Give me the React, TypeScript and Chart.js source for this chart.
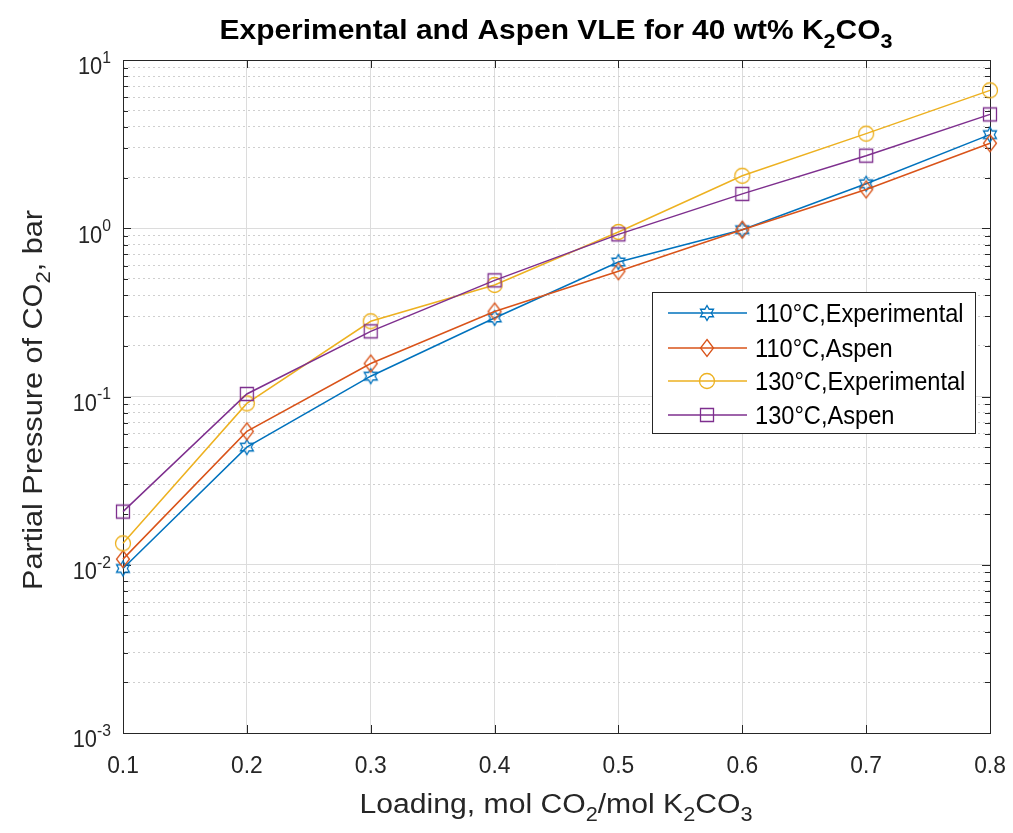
import React, { useEffect, useRef } from 'react';
import { Chart, registerables } from 'chart.js';
Chart.register(...registerables);

// ---------------- data ----------------
const loading = [0.1, 0.2, 0.3, 0.4, 0.5, 0.6, 0.7, 0.8];
const exp110 = [0.0095, 0.05, 0.132, 0.293, 0.63, 0.98, 1.84, 3.6];
const aspen110 = [0.0108, 0.062, 0.157, 0.32, 0.555, 0.98, 1.7, 3.2];
const exp130 = [0.0134, 0.091, 0.28, 0.46, 0.95, 2.05, 3.65, 6.6];
const aspen130 = [0.0207, 0.1035, 0.244, 0.49, 0.92, 1.6, 2.7, 4.75];
const seriesLabels = ['110°C,Experimental', '110°C,Aspen', '130°C,Experimental', '130°C,Aspen'];
const seriesColors = ['#0072BD', '#D95319', '#EDB120', '#7E2F8E'];
const seriesMarkers = ['hexagram', 'diamond', 'circle', 'square'];
const yDecades = [-3, -2, -1, 0, 1];
const xMin = 0.1;
const xMax = 0.8;

const FAMILY = '"Liberation Sans", Arial, Helvetica, sans-serif';
const TEXT = '#262626';

type Seg = { t: string; s?: 'sub' | 'sup' };

function drawRich(
  ctx: CanvasRenderingContext2D,
  segs: Seg[],
  cx: number,
  cy: number,
  size: number,
  weight: string,
  color: string,
  align: 'center' | 'left' | 'right',
  opts: { fit?: number; sx?: number } = {}
) {
  const small = size * 0.72;
  const widths = segs.map((sg) => {
    ctx.font = `${weight} ${sg.s ? small : size}px ${FAMILY}`;
    return ctx.measureText(sg.t).width;
  });
  const total = widths.reduce((a, b) => a + b, 0);
  const sx = opts.fit ? opts.fit / total : opts.sx || 1;
  ctx.save();
  ctx.translate(cx, cy);
  ctx.scale(sx, 1);
  ctx.fillStyle = color;
  ctx.textAlign = 'left';
  ctx.textBaseline = 'alphabetic';
  let x = align === 'center' ? -total / 2 : align === 'right' ? -total : 0;
  const base = size * 0.36;
  segs.forEach((sg, i) => {
    ctx.font = `${weight} ${sg.s ? small : size}px ${FAMILY}`;
    let y = base;
    if (sg.s === 'sub') y = base + size * 0.32;
    if (sg.s === 'sup') y = base - size * 0.5;
    ctx.fillText(sg.t, x, y);
    x += widths[i];
  });
  ctx.restore();
}

function makeMarker(kind: string, color: string): HTMLCanvasElement {
  const c = document.createElement('canvas');
  c.width = 24;
  c.height = 24;
  const g = c.getContext('2d') as CanvasRenderingContext2D;
  g.strokeStyle = color;
  g.lineWidth = 1.3;
  g.translate(12, 12);
  g.beginPath();
  if (kind === 'hexagram') {
    const R = 7.5;
    const r = R / Math.sqrt(3);
    for (let i = 0; i < 12; i++) {
      const a = -Math.PI / 2 + (i * Math.PI) / 6;
      const rad = i % 2 === 0 ? R : r;
      const px = rad * Math.cos(a);
      const py = rad * Math.sin(a);
      if (i === 0) g.moveTo(px, py);
      else g.lineTo(px, py);
    }
    g.closePath();
  } else if (kind === 'diamond') {
    g.moveTo(0, -8.5);
    g.lineTo(6.5, 0);
    g.lineTo(0, 8.5);
    g.lineTo(-6.5, 0);
    g.closePath();
  } else if (kind === 'circle') {
    g.arc(0, 0, 7.5, 0, Math.PI * 2);
  } else {
    g.rect(-6.5, -6.5, 13, 13);
  }
  g.stroke();
  return c;
}

export default function App() {
  const ref = useRef<HTMLCanvasElement>(null);

  useEffect(() => {
    const canvas = ref.current as HTMLCanvasElement;
    const markers = seriesColors.map((c, i) => makeMarker(seriesMarkers[i], c));
    const allSeries = [exp110, aspen110, exp130, aspen130];

    const decor = {
      id: 'decor',
      beforeDatasetsDraw(chart: any) {
        const { ctx, chartArea: a, scales } = chart;
        ctx.save();
        ctx.strokeStyle = TEXT;
        ctx.lineWidth = 1;
        ctx.strokeRect(a.left + 0.5, a.top + 0.5, a.right - a.left, a.bottom - a.top);
        ctx.beginPath();
        scales.x.ticks.forEach((t: any) => {
          const px = Math.round(scales.x.getPixelForValue(t.value)) + 0.5;
          ctx.moveTo(px, a.bottom);
          ctx.lineTo(px, a.bottom - 8);
          ctx.moveTo(px, a.top);
          ctx.lineTo(px, a.top + 8);
        });
        scales.y.ticks.forEach((t: any) => {
          const py = Math.round(scales.y.getPixelForValue(t.value)) + 0.5;
          const len = t.major ? 8 : 5;
          ctx.moveTo(a.left, py);
          ctx.lineTo(a.left + len, py);
          ctx.moveTo(a.right, py);
          ctx.lineTo(a.right - len, py);
        });
        ctx.stroke();
        ctx.restore();
      },
      afterDraw(chart: any) {
        const { ctx, scales } = chart;
        // x tick labels
        scales.x.ticks.forEach((t: any) => {
          const px = scales.x.getPixelForValue(t.value);
          drawRich(ctx, [{ t: t.value.toFixed(1) }], px, 764, 24, 'normal', TEXT, 'center', { sx: 0.95 });
        });
        // y tick labels
        yDecades.forEach((e) => {
          const py = scales.y.getPixelForValue(Math.pow(10, e));
          drawRich(ctx, [{ t: '10' }, { t: String(e), s: 'sup' }], 111, py + 6, 23, 'normal', TEXT, 'right', { sx: 0.95 });
        });
        // title
        drawRich(
          ctx,
          [{ t: 'Experimental and Aspen VLE for 40 wt% K' }, { t: '2', s: 'sub' }, { t: 'CO' }, { t: '3', s: 'sub' }],
          556,
          29,
          28,
          'bold',
          '#000',
          'center',
          { fit: 673 }
        );
        // x title
        drawRich(
          ctx,
          [{ t: 'Loading, mol CO' }, { t: '2', s: 'sub' }, { t: '/mol K' }, { t: '2', s: 'sub' }, { t: 'CO' }, { t: '3', s: 'sub' }],
          556,
          803,
          27,
          'normal',
          TEXT,
          'center',
          { fit: 393 }
        );
        // y title
        ctx.save();
        ctx.translate(32, 400);
        ctx.rotate(-Math.PI / 2);
        drawRich(
          ctx,
          [{ t: 'Partial Pressure of CO' }, { t: '2', s: 'sub' }, { t: ', bar' }],
          0,
          0,
          27,
          'normal',
          TEXT,
          'center',
          { fit: 380 }
        );
        ctx.restore();
        // legend
        const L = 652, T = 292, R = 975, B = 433;
        ctx.save();
        ctx.fillStyle = '#fff';
        ctx.fillRect(L, T, R - L, B - T);
        ctx.strokeStyle = TEXT;
        ctx.lineWidth = 1;
        ctx.strokeRect(L + 0.5, T + 0.5, R - L, B - T);
        const rows = [313, 348, 381, 415];
        chart.data.datasets.forEach((ds: any, i: number) => {
          const y = rows[i];
          ctx.strokeStyle = ds.borderColor;
          ctx.lineWidth = 1.6;
          ctx.beginPath();
          ctx.moveTo(668, y);
          ctx.lineTo(747, y);
          ctx.stroke();
          ctx.drawImage(markers[i], 707 - 12, y - 12);
          drawRich(ctx, [{ t: ds.label }], 755, y, 25, 'normal', '#000', 'left', { sx: 0.945 });
        });
        ctx.restore();
      },
    };

    const chart = new Chart(canvas, {
      type: 'line',
      data: {
        datasets: allSeries.map((vals, i) => ({
          label: seriesLabels[i],
          data: loading.map((x, j) => ({ x, y: vals[j] })),
          borderColor: seriesColors[i],
          backgroundColor: seriesColors[i],
          borderWidth: 1.5,
          pointStyle: markers[i] as any,
          pointRadius: 7,
          pointHoverRadius: 7,
          tension: 0,
          fill: false,
          clip: false as any,
          order: 3 - i,
        })),
      },
      options: {
        responsive: false,
        animation: false,
        events: [],
        layout: { autoPadding: false, padding: { left: 123, top: 60, right: 23, bottom: 100 } } as any,
        plugins: {
          legend: { display: false },
          tooltip: { enabled: false },
          title: { display: false },
        },
        scales: {
          x: {
            type: 'linear',
            min: xMin,
            max: xMax,
            ticks: { display: false, stepSize: 0.1 },
            grid: { drawTicks: false, color: '#dcdcdc', lineWidth: 1 },
            border: { display: false },
          },
          y: {
            type: 'logarithmic',
            min: 0.001,
            max: 10,
            afterBuildTicks: (scale: any) => {
              const t: any[] = [];
              for (let e = -3; e <= 1; e++) {
                for (let m = 1; m <= 9; m++) {
                  if (e === 1 && m > 1) break;
                  t.push({ value: parseFloat((m * Math.pow(10, e)).toPrecision(6)), major: m === 1 });
                }
              }
              scale.ticks = t;
            },
            ticks: { display: false },
            grid: {
              drawTicks: false,
              lineWidth: 1,
              color: (c: any) => (c.tick && c.tick.major ? '#dcdcdc' : '#cfcfcf'),
            },
            border: {
              display: false,
              dash: (c: any) => (c.tick && !c.tick.major ? [2, 3] : []),
            } as any,
          },
        },
      },
      plugins: [decor],
    });
    return () => chart.destroy();
  }, []);

  return (
    <div style={{ position: 'absolute', left: 0, top: 0, width: 1013, height: 833, background: '#fff' }}>
      <canvas ref={ref} width={1013} height={833} style={{ display: 'block', width: 1013, height: 833 }} />
    </div>
  );
}
